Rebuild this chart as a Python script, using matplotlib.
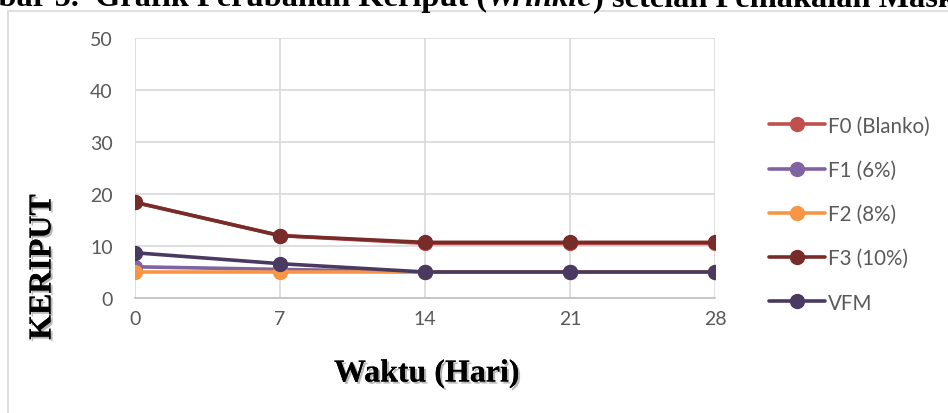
import matplotlib
matplotlib.use("Agg")
import matplotlib.pyplot as plt
import matplotlib.patheffects as pe
from matplotlib.patches import Rectangle

# ---------------------------------------------------------------------------
# Data
# ---------------------------------------------------------------------------
days = [0, 7, 14, 21, 28]

f0_blanko = [18.4, 12.0, 10.5, 10.5, 10.5]
f1_6 = [6.0, 5.5, 5.0, 5.0, 5.0]
f2_8 = [5.0, 5.0, 5.0, 5.0, 5.0]
f3_10 = [18.4, 12.0, 10.7, 10.7, 10.7]
vfm = [8.7, 6.6, 5.0, 5.0, 5.0]

series_labels = ["F0 (Blanko)", "F1 (6%)", "F2 (8%)", "F3 (10%)", "VFM"]
series_colors = ["#C0504D", "#8064A2", "#F79646", "#772C2A", "#4A3961"]
y_ticks = [0, 10, 20, 30, 40, 50]

caption_parts = [("Gambar 5.  Grafik Perubahan Keriput (", "normal"),
                 ("Wrinkle", "italic"),
                 (") setelah Pemakaian Masker", "normal")]

# ---------------------------------------------------------------------------
# Figure
# ---------------------------------------------------------------------------
W, H = 948, 414
fig = plt.figure(figsize=(W / 100, H / 100), dpi=100)
fig.patch.set_facecolor("white")

# chart-area border (light grey box, clipped at right/bottom)
fig.patches.append(Rectangle((8 / W, -0.05), 1.1, (H - 12) / H + 0.05,
                             transform=fig.transFigure, fill=False,
                             edgecolor="#D9D9D9", linewidth=1.2))

ax = fig.add_axes([135 / W, (H - 299) / H, 580 / W, 260 / H])

for vals, lab, col in zip([f0_blanko, f1_6, f2_8, f3_10, vfm],
                          series_labels, series_colors):
    ax.plot(days, vals, color=col, linewidth=2.6, marker="o",
            markersize=10, label=lab, solid_capstyle="round")

ax.set_xlim(0, 28)
ax.set_ylim(0, 50)
ax.set_xticks(days)
ax.set_yticks(y_ticks)
ax.grid(True, color="#D9D9D9", linewidth=1.2)
ax.set_axisbelow(True)
for s in ["top", "right", "left"]:
    ax.spines[s].set_visible(False)
ax.spines["bottom"].set_color("#BFBFBF")
ax.spines["bottom"].set_linewidth(1.2)

ax.tick_params(axis="both", length=0)
ax.tick_params(axis="y", pad=16)
ax.tick_params(axis="x", pad=9)
for lbl in ax.get_xticklabels() + ax.get_yticklabels():
    lbl.set_fontfamily("Lato")
    lbl.set_fontsize(14)
    lbl.set_color("#595959")

leg = ax.legend(loc="center left", bbox_to_anchor=(759 / W, (H - 215) / H),
                bbox_transform=fig.transFigure, frameon=False,
                handlelength=2.7, handletextpad=0.15, labelspacing=1.18,
                borderpad=0, prop={"family": "Lato", "size": 14.8})
for t in leg.get_texts():
    t.set_color("#595959")

# axis titles (bold serif with a soft shadow)
shadow = [pe.withSimplePatchShadow(offset=(1.5, -1.5),
                                   shadow_rgbFace="#888888", alpha=0.6),
          pe.Normal()]
fig.text(43 / W, (H - 268) / H, "KERIPUT", rotation=90, ha="center",
         va="center", family="Liberation Serif", weight="bold", size=23,
         path_effects=shadow)
fig.text(427 / W, (H - 375) / H, "Waktu (Hari)", ha="center", va="center",
         family="Liberation Serif", weight="bold", size=23,
         path_effects=shadow)

# caption above the chart, cut off by the top edge
fig.canvas.draw()
renderer = fig.canvas.get_renderer()
x_px = -70
for text, style in caption_parts:
    t = fig.text(x_px / W, (H - 6) / H, text, family="Liberation Serif",
                 weight="bold", style=style, size=23.3, va="baseline")
    x_px += t.get_window_extent(renderer).width

fig.savefig("out.png", dpi=100)
